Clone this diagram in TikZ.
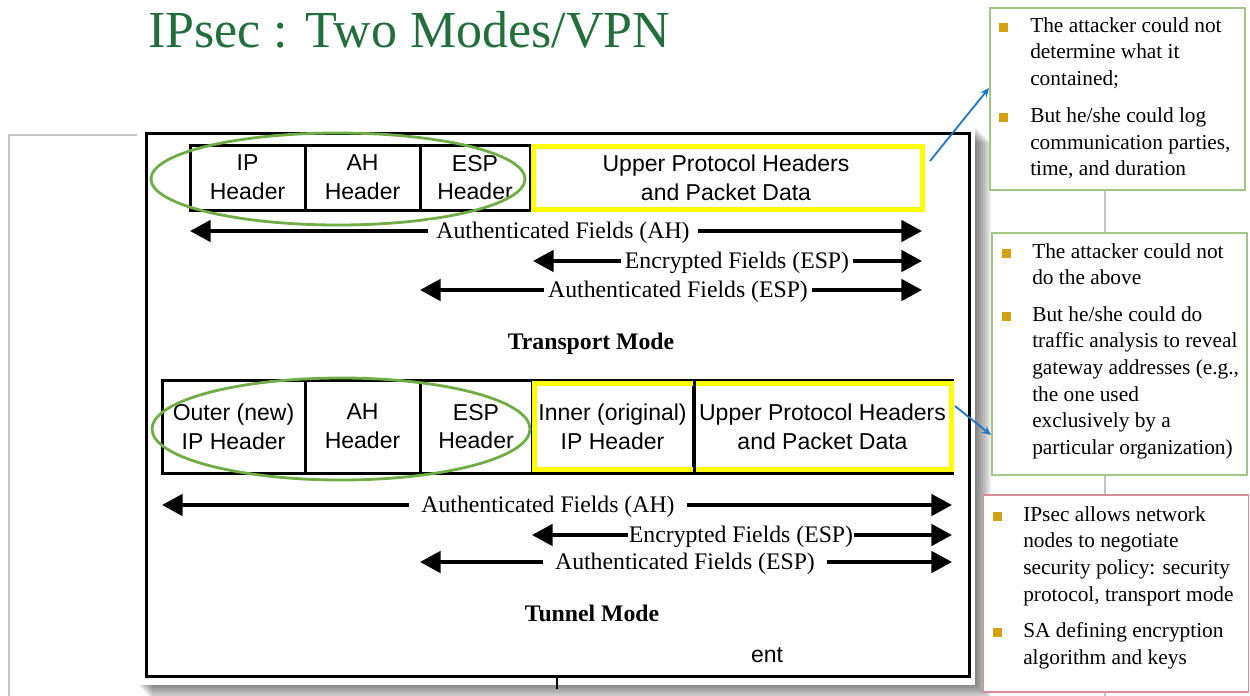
\documentclass[tikz,border=0pt]{standalone}
\usepackage{fontspec}
\setmainfont{Liberation Serif}
\setsansfont{Liberation Sans}
\usetikzlibrary{arrows.meta,calc,shapes.geometric}
\newdimen\px \px=0.75pt
\definecolor{titlegreen}{RGB}{35,110,60}
\definecolor{ellgreen}{RGB}{112,173,71}
\definecolor{boxgreen}{RGB}{160,200,130}
\definecolor{boxred}{RGB}{215,140,150}
\definecolor{bulgold}{RGB}{212,160,20}
\definecolor{arrblue}{RGB}{31,119,196}
\definecolor{hiyellow}{RGB}{255,255,0}
\definecolor{framegrey}{RGB}{195,195,195}
\begin{document}
\begin{tikzpicture}[x=0.75pt,y=-0.75pt,
  cell/.style={draw=black, line width=3\px, inner sep=0pt, align=center,
    font=\sffamily\fontsize{17.25}{21.5}\selectfont},
  dblarrow/.style={line width=4\px, {Triangle[length=15.5pt,width=16pt]}-{Triangle[length=15.5pt,width=16pt]}},
  lbl/.style={fill=white, anchor=base, inner xsep=4\px, inner ysep=1pt, font=\fontsize{17.8}{20}\selectfont},
  yel/.style={draw=hiyellow, line width=5\px},
  ell/.style={draw=ellgreen, line width=2.8\px},
  rbox/.style={fill=white, line width=1.2\px, inner sep=0pt},
  rtxt/.style={anchor=base west, inner sep=0pt, font=\fontsize{16}{19}\selectfont},
  bul/.style={fill=bulgold, minimum size=9\px, inner sep=0pt},
  bluearr/.style={draw=arrblue, line width=1.8\px, -{Stealth[length=6.75pt,width=6pt]}}
]
\useasboundingbox (0,0) rectangle (1250,696);
\fill[white] (0,0) rectangle (1250,696);

% background page outlines
\draw[framegrey, line width=1.2\px] (137,135) -- (9,135) -- (9,696);
\draw[framegrey, line width=1.2\px] (1105,190) -- (1105,696);

% title
\node[anchor=base west, text=titlegreen, font=\fontsize{39}{44}\selectfont, inner sep=0pt] (title) at (148,47) {IPsec : Two Modes/VPN};

% panel with shadow
\foreach \d in {2,4,...,16} {
  \fill[black, opacity=0.075] ({136+\d},{126+\d}) rectangle ({975+\d},{684+\d});
}
\fill[white] (138,128) rectangle (975,685);
\node[draw=black, line width=3\px, minimum width=823\px, minimum height=543\px, inner sep=0pt] (frame) at (557.5,404.5) {};
\coordinate (tickA) at (557,676);
\coordinate (tickB) at (557,689);
\draw[line width=1.5\px] (tickA) -- (tickB);

% ---------- Transport mode ----------
\node[cell, minimum width=115\px, minimum height=65\px] (tIP) at (247.5,177.5) {IP\\Header};
\node[cell, minimum width=115\px, minimum height=65\px] (tAH) at (362.5,177.5) {AH\\Header};
\node[cell, minimum width=110\px, minimum height=65\px] (tESP) at (475,177.5) {ESP\\Header};
\node[cell, minimum width=392\px, minimum height=65\px] (tUP) at (726,177.5) {Upper Protocol Headers\\and Packet Data};
\node[yel, minimum width=389\px, minimum height=63\px, inner sep=0pt] (tY) at (727.5,178) {};
\node[ell, ellipse, minimum width=374\px, minimum height=92\px] (tE) at (338,179) {};

\coordinate (t1L) at (190,231); \coordinate (t1R) at (922,231);
\draw[dblarrow] (t1L) -- (t1R);
\node[lbl, inner xsep=8\px] (t1T) at (563,238) {Authenticated Fields (AH)};
\coordinate (t2L) at (533,261); \coordinate (t2R) at (922,261);
\draw[dblarrow] (t2L) -- (t2R);
\node[lbl] (t2T) at (737,268) {Encrypted Fields (ESP)};
\coordinate (t3L) at (420,290); \coordinate (t3R) at (922,290);
\draw[dblarrow] (t3L) -- (t3R);
\node[lbl] (t3T) at (678,297) {Authenticated Fields (ESP)};
\node[anchor=base, inner sep=0pt, font=\bfseries\fontsize{17.8}{20}\selectfont] (tmode) at (591,349) {Transport Mode};

% ---------- Tunnel mode ----------
\node[cell, minimum width=143\px, minimum height=93\px] (nOut) at (233.5,426.5) {Outer (new)\\IP Header};
\node[cell, minimum width=115\px, minimum height=93\px] (nAH) at (362.5,426.5) {AH\\Header};
\node[cell, minimum width=112\px, minimum height=93\px] (nESP) at (476,426.5) {ESP\\Header};
\node[cell, minimum width=161\px, minimum height=93\px] (nInn) at (612.5,426.5) {Inner (original)\\IP Header};
\node[cell, minimum width=259\px, minimum height=93\px] (nUP) at (822.5,426.5) {Upper Protocol Headers\\and Packet Data};
\node[yel, minimum width=417\px, minimum height=86\px, inner sep=0pt] (nY) at (742.5,426.5) {};
\draw[line width=3\px] (nInn.north east) -- (nInn.south east);
\node[ell, ellipse, minimum width=378\px, minimum height=102\px] (nE) at (341,429) {};

\coordinate (n1L) at (162,505); \coordinate (n1R) at (952,505);
\draw[dblarrow] (n1L) -- (n1R);
\node[lbl, inner xsep=12\px] (n1T) at (548,512) {Authenticated Fields (AH)};
\coordinate (n2L) at (532,535); \coordinate (n2R) at (952,535);
\draw[dblarrow] (n2L) -- (n2R);
\node[lbl, inner xsep=1\px] (n2T) at (741,542) {Encrypted Fields (ESP)};
\coordinate (n3L) at (420,562); \coordinate (n3R) at (952,562);
\draw[dblarrow] (n3L) -- (n3R);
\node[lbl, inner xsep=12\px] (n3T) at (685,569) {Authenticated Fields (ESP)};
\node[anchor=base, inner sep=0pt, font=\bfseries\fontsize{17.8}{20}\selectfont] (nmode) at (592,621) {Tunnel Mode};
\node[anchor=base, inner sep=0pt, font=\sffamily\fontsize{17.25}{20}\selectfont] (ent) at (767,662) {ent};

% ---------- right-hand notes ----------
\node[rbox, draw=boxgreen, minimum width=255\px, minimum height=182\px] (box1) at (1117.5,99) {};
\node[bul] (b1s1) at (1003,27) {};
\node[rtxt] (b1a) at (1030,32) {The attacker could not};
\node[rtxt] (b1b) at (1030,58) {determine what it};
\node[rtxt] (b1c) at (1030,85) {contained;};
\node[bul] (b1s2) at (1003,117) {};
\node[rtxt] (b1d) at (1030,122) {But he/she could log};
\node[rtxt] (b1e) at (1030,149) {communication parties,};
\node[rtxt] (b1f) at (1030,175) {time, and duration};

\node[rbox, draw=boxgreen, minimum width=255\px, minimum height=242\px] (box2) at (1119.5,354) {};
\node[bul] (b2s1) at (1006,253) {};
\node[rtxt] (b2a) at (1032,258) {The attacker could not};
\node[rtxt] (b2b) at (1032,284) {do the above};
\node[bul] (b2s2) at (1006,316) {};
\node[rtxt] (b2c) at (1032,321) {But he/she could do};
\node[rtxt] (b2d) at (1032,347) {traffic analysis to reveal};
\node[rtxt] (b2e) at (1032,374) {gateway addresses (e.g.,};
\node[rtxt] (b2f) at (1032,401) {the one used};
\node[rtxt] (b2g) at (1032,427) {exclusively by a};
\node[rtxt] (b2h) at (1032,454) {particular organization)};

\node[rbox, draw=boxred, minimum width=265\px, minimum height=197\px] (box3) at (1116,593.5) {};
\node[bul] (b3s1) at (997,516) {};
\node[rtxt] (b3a) at (1023,521) {IPsec allows network};
\node[rtxt] (b3b) at (1023,547) {nodes to negotiate};
\node[rtxt] (b3c) at (1023,574) {security policy: security};
\node[rtxt] (b3d) at (1023,601) {protocol, transport mode};
\node[bul] (b3s2) at (997,632) {};
\node[rtxt] (b3e) at (1023,637) {SA defining encryption};
\node[rtxt] (b3f) at (1023,664) {algorithm and keys};

% blue pointer arrows
\coordinate (a1s) at (930,161);
\coordinate (a1e) at (989,88);
\draw[bluearr] (a1s) -- (a1e);
\coordinate (a2s) at (955,406);
\coordinate (a2e) at (991,435);
\draw[bluearr] (a2s) -- (a2e);
\end{tikzpicture}
\end{document}
